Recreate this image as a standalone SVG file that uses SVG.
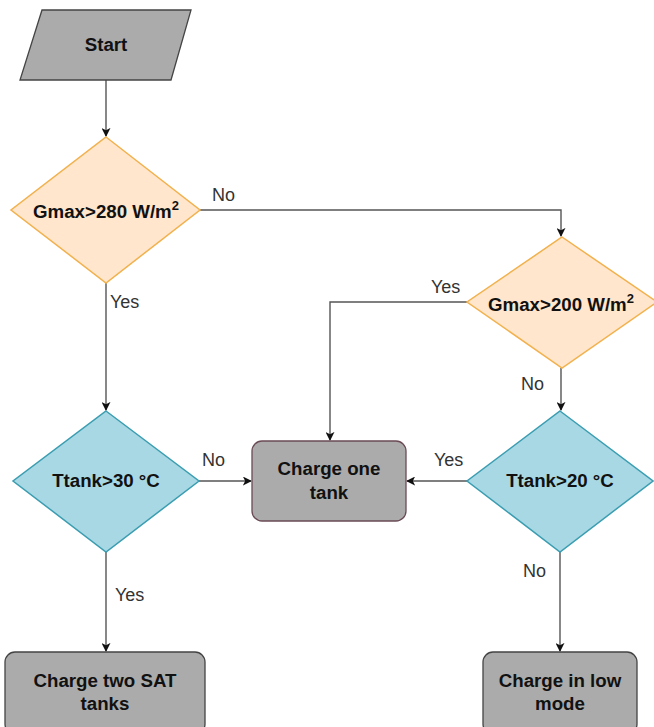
<svg xmlns="http://www.w3.org/2000/svg" width="654" height="727" viewBox="0 0 654 727">
<style>
.bg{fill:#ffffff}
.node-t{font-family:"Liberation Sans",Arial,sans-serif;font-weight:bold;font-size:18.7px;fill:#111;text-anchor:middle}
.lbl{font-family:"Liberation Sans",Arial,sans-serif;font-size:18px;fill:#333}
.edge{fill:none;stroke:#555;stroke-width:1.4}
.grey{fill:#ababab;stroke:#444;stroke-width:1.3}
.dec-o{fill:#ffe6cc;stroke:#f2b14c;stroke-width:1.5}
.dec-b{fill:#a8d8e4;stroke:#3a9db1;stroke-width:1.5}
</style>
<defs>
<marker id="arr" viewBox="0 0 10 10" refX="9" refY="5" markerWidth="9" markerHeight="9" markerUnits="userSpaceOnUse" orient="auto">
<path d="M0,0 L10,5 L0,10 L2.5,5 z" fill="#111"/>
</marker>
</defs>
<rect class="bg" x="0" y="0" width="654" height="727"/>

<g id="connectors">
<path class="edge" d="M106,80 L106,136" marker-end="url(#arr)"/>
<path class="edge" d="M200,210 L561,210 L561,236" marker-end="url(#arr)"/>
<path class="edge" d="M106,283 L106,410" marker-end="url(#arr)"/>
<path class="edge" d="M467,302 L330,302 L330,440" marker-end="url(#arr)"/>
<path class="edge" d="M561,368 L561,410" marker-end="url(#arr)"/>
<path class="edge" d="M199,481 L251,481" marker-end="url(#arr)"/>
<path class="edge" d="M467,481 L407,481" marker-end="url(#arr)"/>
<path class="edge" d="M106,552 L106,651" marker-end="url(#arr)"/>
<path class="edge" d="M560,552 L560,651" marker-end="url(#arr)"/>
<text class="lbl" x="212" y="201">No</text>
<text class="lbl" x="110" y="308">Yes</text>
<text class="lbl" x="431" y="293">Yes</text>
<text class="lbl" x="521" y="390">No</text>
<text class="lbl" x="202" y="466">No</text>
<text class="lbl" x="434" y="466">Yes</text>
<text class="lbl" x="523" y="577">No</text>
<text class="lbl" x="115" y="601">Yes</text>
</g>

<g id="start">
<polygon class="grey" points="42,10 191,10 171,80 20,80"/>
<text class="node-t" x="106" y="51">Start</text>
</g>

<g id="gmax280">
<polygon class="dec-o" points="106,137 200,210 106,283 11,210"/>
<text class="node-t" x="106" y="218">Gmax&gt;280 W/m<tspan font-size="13" dy="-8">2</tspan></text>
</g>

<g id="gmax200">
<polygon class="dec-o" points="562,237 657,302 562,368 467,302"/>
<text class="node-t" x="561" y="311">Gmax&gt;200 W/m<tspan font-size="13" dy="-8">2</tspan></text>
</g>

<g id="ttank30">
<polygon class="dec-b" points="106,411 199,481 106,552 13,481"/>
<text class="node-t" x="106" y="487">Ttank&gt;30 °C</text>
</g>

<g id="ttank20">
<polygon class="dec-b" points="560,411 653,481 560,552 467,481"/>
<text class="node-t" x="560" y="487">Ttank&gt;20 °C</text>
</g>

<g id="charge-one">
<rect x="252" y="441" width="154" height="80" rx="10" fill="#ababab" stroke="#6b4b55" stroke-width="1.3"/>
<text class="node-t" x="329" y="475">Charge one</text>
<text class="node-t" x="329" y="499">tank</text>
</g>

<g id="charge-two">
<rect class="grey" x="5" y="652" width="200" height="82" rx="10"/>
<text class="node-t" x="105" y="687">Charge two SAT</text>
<text class="node-t" x="105" y="710">tanks</text>
</g>

<g id="charge-low">
<rect class="grey" x="483" y="652" width="154" height="82" rx="10"/>
<text class="node-t" x="560" y="687">Charge in low</text>
<text class="node-t" x="560" y="710">mode</text>
</g>
</svg>
